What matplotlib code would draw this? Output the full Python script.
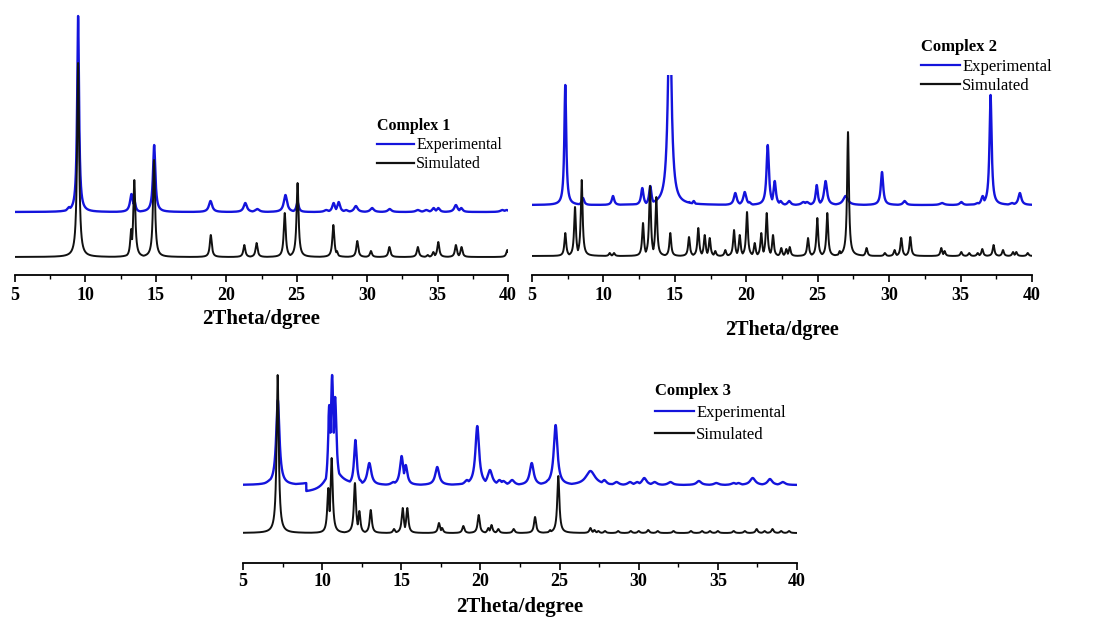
import matplotlib
matplotlib.use("Agg")
import matplotlib.pyplot as plt
import numpy as np
from matplotlib.lines import Line2D

plt.rcParams["font.family"] = ["Liberation Serif", "DejaVu Serif"]

BLUE = "#1414dc"
BLACK = "#111111"

# peak tables: 2theta position, height (a.u.), FWHM
# ---- Complex 1 ----
SIM1_POS = [9.48, 13.25, 13.47, 14.87, 18.9, 21.28, 22.15, 24.15, 25.06,
            27.6, 27.85, 29.3, 30.27, 31.58, 33.6, 34.3, 34.7, 35.05,
            36.3, 36.7, 39.95]
SIM1_H = [194, 28, 77, 97, 22, 12, 14, 44, 74, 32, 6, 16, 6, 10, 10, 2, 5,
          15, 12, 10, 7]
EXP1_POS = [8.85, 9.1, 9.48, 13.27, 13.47, 14.88, 18.88, 21.35, 22.2, 24.2,
            25.06, 27.1, 27.62, 27.98, 28.5, 29.2, 30.35, 31.6, 33.6, 34.2,
            34.72, 35.05, 36.3, 36.68, 39.6, 39.9]
EXP1_H = [5, 6, 196, 18, 12, 67, 11, 9, 3, 17, 10, 2, 9, 10, 2, 6, 4, 3, 2, 2,
          4, 4, 7, 4, 2, 2]
EXP1_W = [0.35, 0.25, 0.16, 0.25, 0.2, 0.2, 0.28, 0.28, 0.35, 0.28, 0.2, 0.35,
          0.24, 0.24, 0.35, 0.3, 0.3, 0.3, 0.35, 0.35, 0.25, 0.25, 0.28, 0.25,
          0.35, 0.35]

# ---- Complex 2 ----
SIM2_POS = [7.33, 8.01, 8.48, 10.44, 10.74, 12.77, 13.26, 13.7, 14.68, 15.99,
            16.64, 17.09, 17.44, 17.83, 18.53, 19.14, 19.54, 20.05, 20.59,
            21.05, 21.43, 21.87, 22.45, 22.8, 23.04, 24.32, 24.97, 25.67,
            26.54, 27.12, 27.4, 28.42, 29.7, 30.38, 30.85, 31.48, 33.65, 33.88,
            35.05, 35.6, 36.2, 36.52, 37.31, 37.97, 38.67, 38.9, 39.7]
SIM2_H = [23, 49, 76, 3, 3, 33, 70, 59, 23, 19, 28, 21, 18, 5, 6, 26, 21, 44,
          13, 23, 43, 21, 8, 7, 9, 18, 38, 43, 5, 124, 6, 8, 3, 6, 18, 19, 8,
          5, 4, 3, 3, 7, 11, 6, 4, 4, 3]
EXP2_POS = [7.33, 8.57, 10.67, 12.72, 13.28, 14.64, 16.0, 16.32, 19.23, 19.89,
            20.2, 21.5, 21.99, 22.4, 23.0, 24.0, 24.25, 24.93, 25.55, 26.95,
            29.5, 31.08, 33.7, 35.05, 36.2, 36.55, 37.1, 38.6, 39.15]
EXP2_H = [120, 7, 9, 17, 19, 200, 3, 4, 12, 13, 3, 60, 24, 4, 4, 3, 3, 20, 24,
          9, 33, 4, 2, 3, 2, 9, 110, 2, 12]
EXP2_W = [0.16, 0.2, 0.2, 0.2, 0.2, 0.3, 0.2, 0.2, 0.24, 0.25, 0.25, 0.2,
          0.2, 0.25, 0.25, 0.35, 0.35, 0.18, 0.25, 0.4, 0.2, 0.25, 0.35, 0.25,
          0.35, 0.25, 0.18, 0.35, 0.25]

# ---- Complex 3 ----
SIM3_POS = [7.19, 10.39, 10.6, 12.07, 12.35, 13.07, 14.54, 15.09, 15.38,
            17.38, 17.58, 18.92, 19.89, 20.5, 20.7, 21.13, 22.1, 23.45, 24.4,
            24.92, 25.13, 26.95, 27.2, 27.45, 27.87, 28.7, 29.5, 30.0, 30.6,
            31.2, 32.2, 33.3, 34.0, 34.5, 35.0, 36.0, 36.7, 37.45, 37.95,
            38.45, 39.0, 39.5]
SIM3_H = [158, 45, 75, 50, 22, 23, 4, 25, 25, 10, 5, 7, 18, 5, 8, 4, 4, 16, 3,
          57, 5, 5, 3, 2, 2, 2, 2, 2, 3, 2, 2, 2, 2, 2, 2, 2, 2, 4, 2, 4, 2, 2]
EXP3_POS = [6.81, 7.2, 10.45, 10.63, 10.82, 10.6, 12.1, 12.4, 12.98, 14.5,
            15.02, 15.28, 17.27, 19.15, 19.8, 20.6, 21.2, 21.45, 22.0, 23.24,
            24.29, 24.75, 26.95, 27.82, 28.6, 29.45, 29.9, 30.35, 31.0, 32.0,
            33.8, 34.9, 36.0, 36.3, 37.2, 38.29, 39.1]
EXP3_H = [6, 85, 80, 110, 88, 22, 45, 5, 22, 3, 29, 20, 18, 5, 59, 15, 5, 4,
          5, 22, 5, 60, 14, 5, 3, 3, 3, 7, 3, 3, 4, 2, 2, 2, 7, 6, 3]
EXP3_W = [0.6, 0.25, 0.2, 0.2, 0.2, 1.0, 0.2, 0.25, 0.3, 0.35, 0.25, 0.25,
          0.3, 0.35, 0.28, 0.35, 0.35, 0.35, 0.35, 0.3, 0.35, 0.28, 0.7, 0.35,
          0.35, 0.35, 0.35, 0.35, 0.35, 0.35, 0.35, 0.35, 0.35, 0.35, 0.4,
          0.35, 0.35]
EXP3_DIP = (9.0, 10.4, -8)   # step in the measured background

TICKS = [5, 10, 15, 20, 25, 30, 35, 40]
LABELS = ["Experimental", "Simulated"]

W, H = 1096, 617
X = np.linspace(5, 40, 7001)


def pattern(pos, hts, wid, base):
    # envelope of Lorentzian peak shapes on a flat background
    wid = np.broadcast_to(wid, len(pos))
    y = np.zeros_like(X)
    for p, h, w in zip(pos, hts, wid):
        y = np.maximum(y, h / (1 + ((X - p) / (w / 2)) ** 2))
    return y + base


def panel(left, right, top, bottom):
    ax = fig.add_axes([left / W, 1 - bottom / H, (right - left) / W,
                       (bottom - top) / H])
    ax.set_xlim(5, 40)
    ax.set_ylim(0, bottom - top)
    for s in ["left", "right", "top"]:
        ax.spines[s].set_visible(False)
    ax.spines["bottom"].set_linewidth(1.3)
    ax.set_yticks([])
    ax.set_xticks(TICKS)
    ax.set_xticks(np.arange(7.5, 40, 5), minor=True)
    ax.tick_params(axis="x", which="major", length=5, width=1.2,
                   labelsize=13, pad=4)
    ax.tick_params(axis="x", which="minor", length=3, width=1.0)
    for t in ax.get_xticklabels():
        t.set_fontweight("bold")
    return ax


def legend(ax, title, x, y, size=11.5, gap=0.2):
    handles = [Line2D([], [], color=BLUE, lw=1.6),
               Line2D([], [], color=BLACK, lw=1.6)]
    ax.legend(handles, LABELS, title=title, loc="upper left",
              bbox_to_anchor=(x / W, 1 - y / H),
              bbox_transform=fig.transFigure, frameon=False, borderpad=0,
              alignment="left", fontsize=size, handlelength=2.3,
              handletextpad=0.15, labelspacing=gap,
              title_fontproperties={"weight": "bold", "size": size})


fig = plt.figure(figsize=(W / 100, H / 100), dpi=100)

# Complex 1
ax = panel(15, 508, 5, 275)
ax.plot(X, pattern(EXP1_POS, EXP1_H, EXP1_W, 63), color=BLUE, lw=1.7)
ax.plot(X, pattern(SIM1_POS, SIM1_H, 0.17, 18), color=BLACK, lw=1.4)
ax.set_xlabel("2Theta/dgree", fontsize=15, fontweight="bold", labelpad=3)
legend(ax, "Complex 1", 369, 110)

# Complex 2
ax = panel(532, 1032, 75, 275)
ax.plot(X, pattern(EXP2_POS, EXP2_H, EXP2_W, 70), color=BLUE, lw=1.7)
ax.plot(X, pattern(SIM2_POS, SIM2_H, 0.15, 19), color=BLACK, lw=1.4)
ax.set_xlabel("2Theta/dgree", fontsize=14.5, fontweight="bold", labelpad=11)
legend(ax, "Complex 2", 913, 31, 12)

# Complex 3
ax = panel(243, 797, 365, 563)
base3 = np.where((X >= EXP3_DIP[0]) & (X <= EXP3_DIP[1]), EXP3_DIP[2], 0)
ax.plot(X, pattern(EXP3_POS, EXP3_H, EXP3_W, 78) + base3, color=BLUE,
        lw=1.7)
ax.plot(X, pattern(SIM3_POS, SIM3_H, 0.16, 30), color=BLACK, lw=1.4)
ax.tick_params(axis="x", which="major", pad=2)
ax.set_xlabel("2Theta/degree", fontsize=15, fontweight="bold", labelpad=5)
legend(ax, "Complex 3", 647, 375, 12, 0.35)

fig.savefig("out.png", dpi=100)
